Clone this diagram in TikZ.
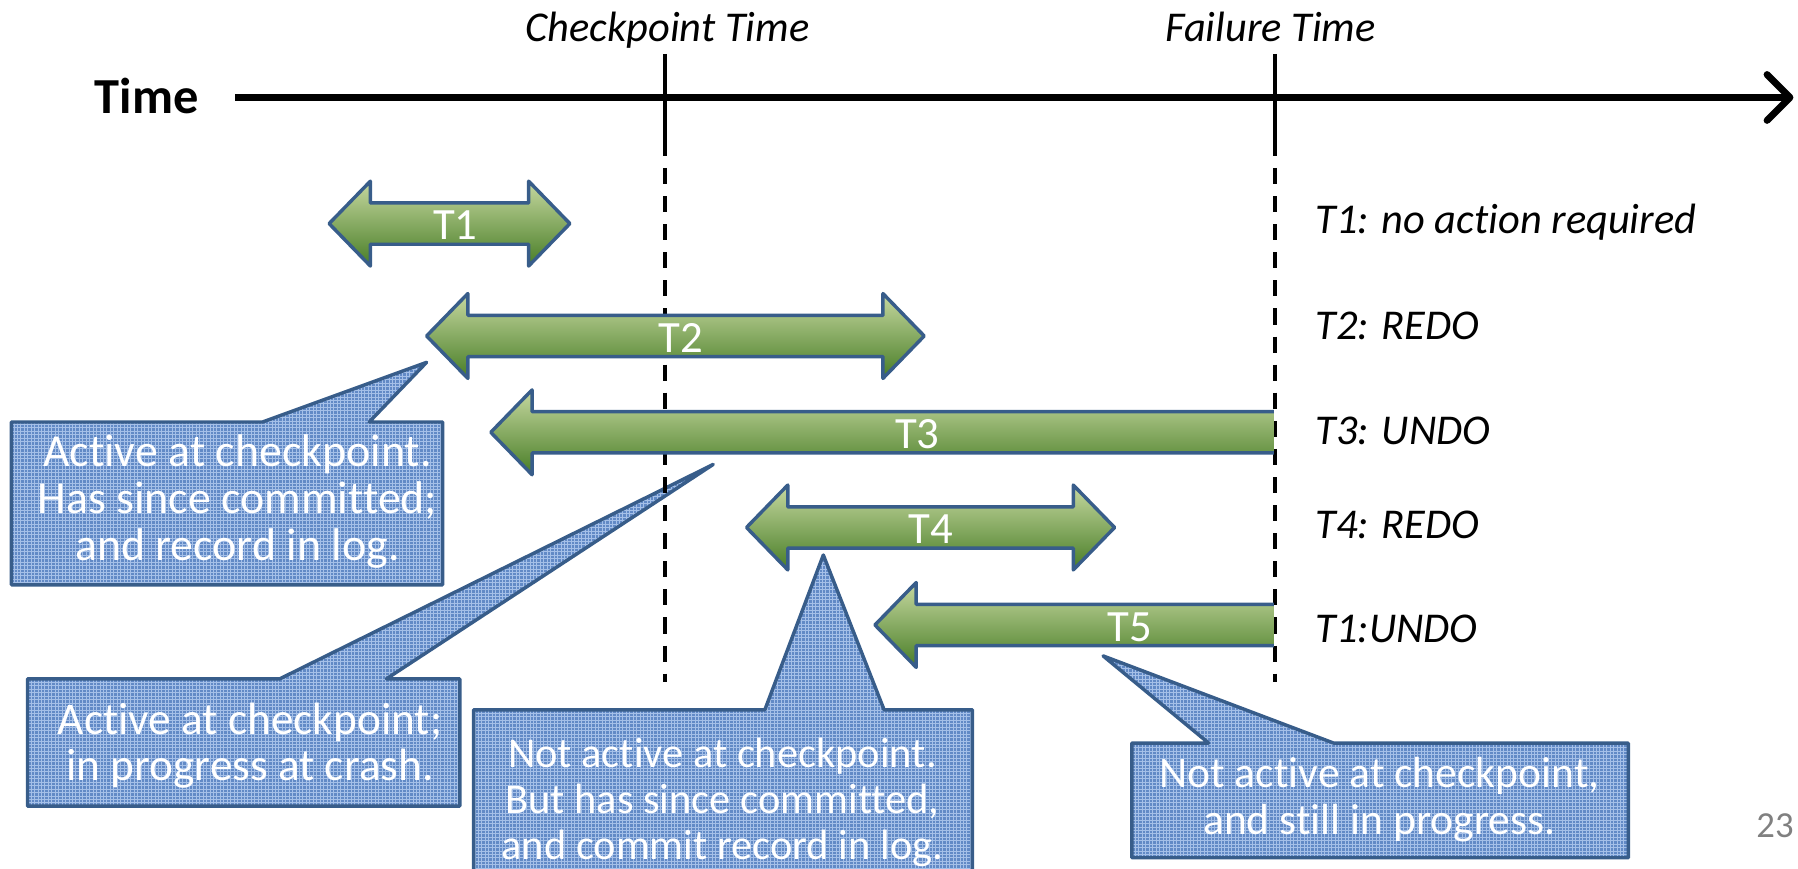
\documentclass[tikz,border=0pt]{standalone}
\usepackage{fontspec}
\setmainfont{Carlito}[Ligatures=CommonOff]
\usetikzlibrary{arrows.meta,patterns}

\definecolor{edgeblue}{RGB}{56,93,138}
\definecolor{calloutblue}{RGB}{98,138,198}
\definecolor{gridblue}{RGB}{165,192,232}
\definecolor{greentop}{RGB}{198,216,160}
\definecolor{greenbot}{RGB}{72,125,38}
\definecolor{pagegray}{RGB}{128,128,128}

% two-headed transaction bar: left tip, right tip, y, label x, label
\newcommand{\txnboth}[5]{%
  \draw[txnbar] (#1,#3) -- ++(36,-37) -- ++(0,19) -- (#2-36,#3-18) -- ++(0,-19)
    -- (#2,#3) -- ++(-36,37) -- ++(0,-19) -- (#1+36,#3+18) -- ++(0,19) -- cycle;
  \node[txnname] (#5) at (#4,#3+14) {#5};}
% transaction still running at failure: left tip, right end, y, label x, label
\newcommand{\txnopen}[5]{%
  \draw[txnbar] (#2,#3-18) -- (#1+36,#3-18) -- ++(0,-19) -- (#1,#3) -- ++(36,37)
    -- ++(0,-19) -- (#2,#3+18);
  \node[txnname] (#5) at (#4,#3+14) {#5};}

\begin{document}
\begin{tikzpicture}[x=1pt, y=-1pt,
    txnbar/.style={draw=edgeblue, line width=3pt, line join=round,
      top color=greentop, bottom color=greenbot},
    txnname/.style={anchor=base, text=white, inner sep=0pt,
      font=\fontsize{39}{41}\selectfont},
    bubble/.style={draw=edgeblue, line width=3pt, line join=round,
      preaction={fill=calloutblue}, pattern=grid, pattern color=gridblue},
    bubbletext/.style={text=white, align=center,
      font=\fontsize{39}{41}\selectfont},
    decision/.style={anchor=base west, inner sep=0pt,
      font=\fontsize{37}{40}\selectfont\itshape},
    heading/.style={anchor=base, inner sep=0pt,
      font=\fontsize{37}{40}\selectfont\itshape},
    cutline/.style={line width=3pt},
    cutdash/.style={line width=3pt, dash pattern=on 14pt off 10.5pt}]
  \useasboundingbox (0,0) rectangle (1568,757);

  % time axis
  \node[anchor=base, inner sep=0pt, font=\fontsize{44}{48}\selectfont\bfseries]
    (timelbl) at (128,99) {Time};
  \coordinate (axstart) at (205,85);
  \coordinate (axend) at (1564,85);
  \draw[line width=6pt, -{Straight Barb[length=20pt,width=40pt,round]}] (axstart) -- (axend);

  \node[heading] (ckptlbl) at (582,36) {Checkpoint Time};
  \node[heading] (faillbl) at (1108,36) {Failure Time};

  % callouts
  \draw[bubble] (10,368) -- (229,368) -- (372,316) -- (322,368) -- (386,368)
    -- (386,510) -- (10,510) -- cycle;
  \node[bubbletext, font=\fontsize{40}{41}\selectfont] (c1) at (207,437)
    {Active at checkpoint.\\Has since committed;\\and record in log.};

  \draw[bubble] (24,592) -- (244,592) -- (622,405) -- (337,592) -- (401,592)
    -- (401,703) -- (24,703) -- cycle;
  \node[bubbletext, font=\fontsize{39.5}{40}\selectfont] (c2) at (218,650)
    {Active at checkpoint;\\in progress at crash.};

  \draw[bubble] (413,619) -- (667,619) -- (718,484) -- (771,619) -- (848,619)
    -- (848,764) -- (413,764) -- cycle;
  \node[bubbletext, font=\fontsize{37}{40}\selectfont] (c3) at (630,700)
    {Not active at checkpoint.\\But has since committed,\\and commit record in log.};

  \draw[bubble] (987,648) -- (1054,648) -- (962,572) -- (1163,648) -- (1420,648)
    -- (1420,748) -- (987,748) -- cycle;
  \node[bubbletext, font=\fontsize{38}{41}\selectfont] (c4) at (1203,697)
    {Not active at checkpoint,\\and still in progress.};

  % checkpoint and failure marks
  \draw[cutline] (580,47) -- (580,122);
  \draw[cutdash] (580,122) -- (580,595);
  \draw[cutline] (1112,47) -- (1112,122);
  \draw[cutdash] (1112,122) -- (1112,595);

  % transactions
  \txnboth{287}{497}{195}{397}{T1}
  \txnboth{372}{806}{293}{594}{T2}
  \txnopen{428}{1111}{377}{800}{T3}
  \txnboth{651}{972}{460}{812}{T4}
  \txnopen{763}{1111}{545}{985}{T5}

  % what recovery does
  \node[decision] (d1) at (1147,204) {T1: no action required};
  \node[decision] (d2) at (1147,296) {T2: REDO};
  \node[decision] (d3) at (1147,388) {T3: UNDO};
  \node[decision] (d4) at (1147,470) {T4: REDO};
  \node[decision] (d5) at (1147,560) {T1:UNDO};

  \node[anchor=base, text=pagegray, inner sep=0pt, font=\fontsize{32}{36}\selectfont]
    (pageno) at (1548,730) {23};
\end{tikzpicture}
\end{document}
